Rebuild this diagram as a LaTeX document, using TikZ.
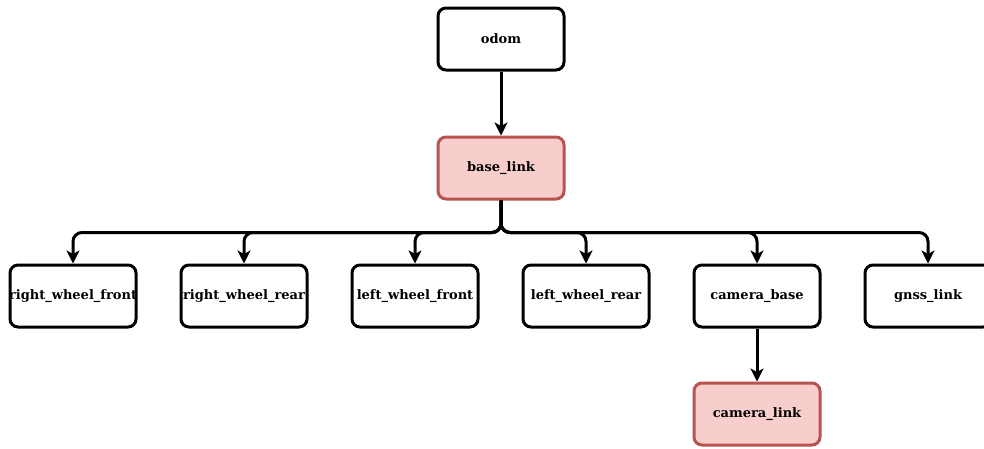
\documentclass[tikz,border=0pt]{standalone}
\usepackage{fontspec}
\setmainfont{DejaVu Serif}
\usetikzlibrary{arrows.meta}
\definecolor{pinkfill}{HTML}{F8CECC}
\definecolor{pinkline}{HTML}{B85450}
\newcommand{\ctext}[1]{\makebox[0pt][c]{#1}}
\begin{document}
\begin{tikzpicture}[x=1pt,y=-1pt,
  box/.style={draw=black, line width=3pt, rounded corners=8pt, minimum width=126pt, minimum height=62pt, inner sep=0pt, fill=white, font=\fontsize{13}{16}\selectfont\bfseries},
  hot/.style={box, draw=pinkline, fill=pinkfill},
  conn/.style={line width=3pt, rounded corners=9pt, -{Stealth[length=13pt,width=13pt,inset=3.5pt]}}
]
\useasboundingbox (0,0) rectangle (984,448);
\node[box] (odom) at (501,39) {\ctext{odom}};
\node[hot] (base) at (501,168) {\ctext{base\_link}};
\node[box] (rwf) at (73,296) {\ctext{right\_wheel\_front}};
\node[box] (rwr) at (244,296) {\ctext{right\_wheel\_rear}};
\node[box] (lwf) at (415,296) {\ctext{left\_wheel\_front}};
\node[box] (lwr) at (586,296) {\ctext{left\_wheel\_rear}};
\node[box] (cb) at (757,296) {\ctext{camera\_base}};
\node[box] (gnss) at (928,296) {\ctext{gnss\_link}};
\node[hot] (cl) at (757,414) {\ctext{camera\_link}};
\draw[conn] (odom) -- (base);
\foreach \n in {rwf,rwr,lwf,lwr,cb,gnss}{
  \draw[conn] (base.south) -- ++(0,32) -| (\n.north);
}
\draw[conn] (cb) -- (cl);
\end{tikzpicture}
\end{document}
